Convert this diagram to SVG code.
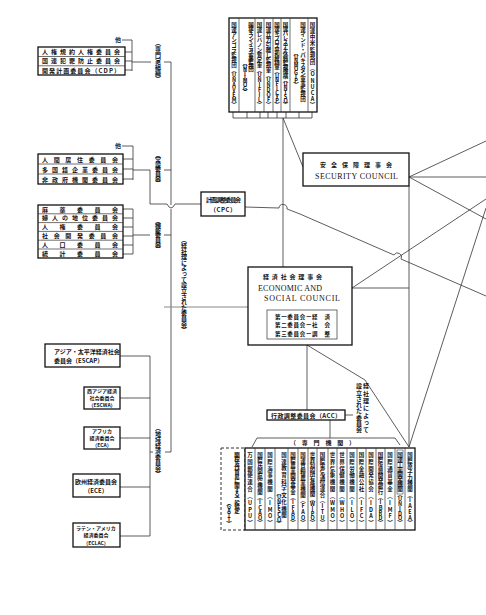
<svg xmlns="http://www.w3.org/2000/svg" width="486" height="615" viewBox="0 0 486 615">
<style>
.bx{fill:#fff;stroke:#111;stroke-width:1.3}
.in{fill:#fff;stroke:#333;stroke-width:0.7}
.ln{fill:none;stroke:#333;stroke-width:0.8}
.gr{fill:none;stroke:#888;stroke-width:1}
.j{font-family:"Noto Sans CJK JP",sans-serif;font-size:6px;fill:#111;font-weight:bold}
.r{font-family:"Noto Sans CJK JP",sans-serif;font-size:5px;fill:#111;font-weight:bold}
.s{font-family:"Noto Sans CJK JP",sans-serif;font-size:5.5px;fill:#111;font-weight:bold}
.e{font-family:"Liberation Serif",serif;font-size:8px;fill:#111}
.v{writing-mode:vertical-rl;text-orientation:upright}
</style>
<rect width="486" height="615" fill="#fff"/>

<g id="connectors">
  <path class="ln" d="M122,40 H132 V71 M125,52 H132 M125,61 H132 M125,70 H132 M132,62 H151 M164,62 H171"/>
  <path class="ln" d="M122,146 H133 V180 M123,159 H133 M123,169 H133 M123,179 H133 M133,170 H150 M164,170 H171"/>
  <path class="ln" d="M150,170 V204 H167 Q171,212 175,204 H201"/>
  <path class="ln" d="M123,209 H133 V254 M123,218 H133 M123,227 H133 M123,236 H133 M123,245 H133 M123,254 H133 M133,235 H150 M164,235 H171"/>
  <path class="ln" d="M171,62 V205 M171,209 V452 H165"/>
  <path class="gr" d="M164,307 H248"/>
  <path class="ln" d="M120,356 H150 M120,398 H150 M120,438 H150 M120,487 H150 M120,536 H150 M150,356 V536 M150,452 H153"/>
  <path class="ln" d="M233,112 V118 M247,112 V118 M260,112 V118 M268,112 V118 M277,112 V118 M286,112 V118 M299,112 V118 M312,112 V118 M233,118 H312"/>
  <path class="ln" d="M283,118 V267 M283,118 L303,167"/>
  <path class="ln" d="M245,207 L279,208 A4,4 0 0 1 287,209 L300,214 L394,255 A4,4 0 0 1 401,259 L486,296"/>
  <path class="ln" d="M409,177 L486,141 M409,177 H486 M409,177 L486,219 M409,186 V447"/>
  <path class="ln" d="M352,288 H409 M352,288 L486,199"/>
  <path class="ln" d="M307,345 V410 M307,345 L365,380 L409,447 M409,447 L437,360 L486,208"/>
  <path class="ln" d="M345,415 H353 M330,420 V438 M252,447 L257,438 H395 L400,445"/>
</g>

<g id="g-experts">
  <text class="j" x="115" y="42">他</text>
  <rect class="bx" x="38" y="47" width="87" height="28"/>
  <path class="in" d="M38,56.5 H125 M38,65.8 H125"/>
  <text class="j" x="42" y="54" textLength="78" lengthAdjust="spacing">人権規約人権委員会</text>
  <text class="j" x="42" y="63.3" textLength="78" lengthAdjust="spacing">国連犯罪防止委員会</text>
  <text class="j" x="42" y="72.6" textLength="78" lengthAdjust="spacing">開発計画委員会（CDP）</text>
  <text class="j v" x="158" y="40" textLength="42" lengthAdjust="spacing">（専門家組織）</text>
</g>

<g id="g-standing">
  <text class="j" x="115" y="148">他</text>
  <rect class="bx" x="38" y="154" width="85" height="30"/>
  <path class="in" d="M38,164 H123 M38,174 H123"/>
  <text class="j" x="42" y="161.5" textLength="76" lengthAdjust="spacing">人間居住委員会</text>
  <text class="j" x="42" y="171.5" textLength="76" lengthAdjust="spacing">多国籍企業委員会</text>
  <text class="j" x="42" y="181.5" textLength="76" lengthAdjust="spacing">非政府機関委員会</text>
  <text class="j v" x="158" y="152" textLength="34" lengthAdjust="spacing">（常設委員会）</text>
</g>

<g id="g-functional">
  <rect class="bx" x="38" y="205" width="85" height="53"/>
  <path class="in" d="M38,213.8 H123 M38,222.6 H123 M38,231.4 H123 M38,240.2 H123 M38,249 H123"/>
  <text class="j" x="42" y="211.6" textLength="76" lengthAdjust="spacing">麻薬委員会</text>
  <text class="j" x="42" y="220.4" textLength="76" lengthAdjust="spacing">婦人の地位委員会</text>
  <text class="j" x="42" y="229.2" textLength="76" lengthAdjust="spacing">人権委員会</text>
  <text class="j" x="42" y="238" textLength="76" lengthAdjust="spacing">社会開発委員会</text>
  <text class="j" x="42" y="246.8" textLength="76" lengthAdjust="spacing">人口委員会</text>
  <text class="j" x="42" y="255.6" textLength="76" lengthAdjust="spacing">統計委員会</text>
  <text class="j v" x="158" y="218" textLength="34" lengthAdjust="spacing">（機能委員会）</text>
</g>

<g id="n-cpc">
  <rect class="bx" x="201" y="192" width="44" height="24"/>
  <text class="j" x="206" y="202" textLength="35" lengthAdjust="spacing">計画調整委員会</text>
  <text class="j" x="210" y="212" textLength="26" lengthAdjust="spacing">（CPC）</text>
</g>

<text class="j v" x="184" y="237" textLength="96" lengthAdjust="spacing">（経社理によって設立された委員会）</text>

<g id="n-sc">
  <rect class="bx" x="303" y="153" width="106" height="33"/>
  <text class="j" x="320" y="167" textLength="72" lengthAdjust="spacing">安全保障理事会</text>
  <text class="e" x="315" y="179" textLength="83" lengthAdjust="spacing">SECURITY COUNCIL</text>
</g>

<g id="n-ecosoc">
  <rect class="bx" x="248" y="267" width="104" height="78"/>
  <text class="j" x="263" y="279" textLength="59" lengthAdjust="spacing">経済社会理事会</text>
  <text class="e" x="258" y="291" textLength="64" lengthAdjust="spacing">ECONOMIC AND</text>
  <text class="e" x="264" y="301" textLength="76" lengthAdjust="spacing">SOCIAL COUNCIL</text>
  <rect class="in" x="267" y="310" width="70" height="29"/>
  <text class="s" x="275" y="318.5" textLength="55" lengthAdjust="spacing">第一委員会ー経　済</text>
  <text class="s" x="275" y="327" textLength="55" lengthAdjust="spacing">第二委員会ー社　会</text>
  <text class="s" x="275" y="335.5" textLength="55" lengthAdjust="spacing">第三委員会ー調　整</text>
</g>

<g id="n-acc">
  <rect class="bx" x="267" y="410" width="78" height="10"/>
  <text class="j" x="271" y="417.5" textLength="70" lengthAdjust="spacing">行政調整委員会（ACC）</text>
  <text class="j v" x="366" y="383" textLength="50" lengthAdjust="spacing">経社理によって</text>
  <text class="j v" x="359" y="383" textLength="50" lengthAdjust="spacing">設立された委員会</text>
  <text class="j" x="290" y="445" textLength="65" lengthAdjust="spacing">（専門機関）</text>
</g>

<g id="g-pko">
  <rect class="bx" x="229" y="18" width="88" height="94"/>
  <path class="in" d="M239,18 V112 M255,18 V112 M264,18 V112 M273,18 V112 M281,18 V112 M290,18 V112 M308,18 V112"/>
  <text class="s v" x="234" y="22" textLength="86" lengthAdjust="spacing">国連アンゴラ監視団（UNAVEM）</text>
  <text class="s v" x="251" y="22" textLength="50" lengthAdjust="spacing">国連イラン・イラク軍事監視団</text>
  <text class="s v" x="245" y="60" textLength="35" lengthAdjust="spacing">（UNIIMOG）</text>
  <text class="s v" x="259.5" y="22" textLength="86" lengthAdjust="spacing">国連レバノン暫定軍（UNIFIL）</text>
  <text class="s v" x="268.5" y="22" textLength="86" lengthAdjust="spacing">国連兵力引離し監視軍（UNDOF）</text>
  <text class="s v" x="277" y="22" textLength="86" lengthAdjust="spacing">国連キプロス平和維持軍（UNFICYP）</text>
  <text class="s v" x="285.5" y="22" textLength="86" lengthAdjust="spacing">国連パレスチナ休戦監視機構（UNTSO）</text>
  <text class="s v" x="303" y="22" textLength="80" lengthAdjust="spacing">国連インド・パキスタン軍事監視団</text>
  <text class="s v" x="296" y="50" textLength="38" lengthAdjust="spacing">（UNMOGIP）</text>
  <text class="s v" x="312.5" y="22" textLength="86" lengthAdjust="spacing">国連中米監視団（ONUCA）</text>
</g>

<g id="g-agencies">
  <rect x="221" y="448" width="24" height="82" fill="#fff" stroke="#333" stroke-width="1" stroke-dasharray="3,2"/>
  <text class="s v" x="237" y="452" textLength="62" lengthAdjust="spacing">関税及び貿易に関する一般協定</text>
  <text class="s v" x="229" y="500" textLength="27" lengthAdjust="spacing">（GATT）</text>
  <rect class="bx" x="245" y="448" width="170" height="82"/>
  <path class="in" d="M255,448 V530 M265,448 V530 M275,448 V530 M288,448 V530 M298,448 V530 M308,448 V530 M317,448 V530 M328,448 V530 M337,448 V530 M347,448 V530 M357,448 V530 M366,448 V530 M376,448 V530 M385,448 V530 M395,448 V530 M405,448 V530"/>
  <rect x="397" y="450" width="6" height="44" fill="none" stroke="#444" stroke-width="0.6"/>
  <text class="s v" x="250" y="452" textLength="74" lengthAdjust="spacing">万国郵便連合（UPU）</text>
  <text class="s v" x="260" y="452" textLength="74" lengthAdjust="spacing">国際民間航空機関（ICAO）</text>
  <text class="s v" x="270" y="452" textLength="74" lengthAdjust="spacing">国際海事機関（IMO）</text>
  <text class="s v" x="284" y="452" textLength="66" lengthAdjust="spacing">国連教育科学文化機関</text>
  <text class="s v" x="279" y="490" textLength="37" lengthAdjust="spacing">（UNESCO）</text>
  <text class="s v" x="293" y="452" textLength="74" lengthAdjust="spacing">国際農業開発基金（IFAD）</text>
  <text class="s v" x="303" y="452" textLength="74" lengthAdjust="spacing">国連食糧農業機関（FAO）</text>
  <text class="s v" x="312.5" y="452" textLength="74" lengthAdjust="spacing">世界知的所有権機関（WIPO）</text>
  <text class="s v" x="322.5" y="452" textLength="74" lengthAdjust="spacing">国際電気通信連合（ITU）</text>
  <text class="s v" x="332.5" y="452" textLength="74" lengthAdjust="spacing">世界気象機関（WMO）</text>
  <text class="s v" x="342" y="452" textLength="74" lengthAdjust="spacing">世界保健機関（WHO）</text>
  <text class="s v" x="352" y="452" textLength="74" lengthAdjust="spacing">国際労働機関（ILO）</text>
  <text class="s v" x="361.5" y="452" textLength="74" lengthAdjust="spacing">国際金融公社（IFC）</text>
  <text class="s v" x="371" y="452" textLength="74" lengthAdjust="spacing">国際開発協会（IDA）</text>
  <text class="s v" x="380.5" y="452" textLength="74" lengthAdjust="spacing">国際復興開発銀行（IBRD）</text>
  <text class="s v" x="390" y="452" textLength="74" lengthAdjust="spacing">国際通貨基金（IMF）</text>
  <text class="s v" x="400" y="452" textLength="74" lengthAdjust="spacing">国連工業開発機関（UNIDO）</text>
  <text class="s v" x="410" y="452" textLength="74" lengthAdjust="spacing">国際原子力機関（IAEA）</text>
</g>

<g id="g-regional">
  <text class="j v" x="158" y="425" textLength="52" lengthAdjust="spacing">（地域経済委員会）</text>
  <g id="n-escap">
    <rect class="bx" x="45" y="344" width="75" height="23"/>
    <text class="j" x="54" y="354">アジア・太平洋経済社会</text>
    <text class="j" x="54" y="363">委員会（ESCAP）</text>
  </g>
  <g id="n-escwa">
    <rect class="bx" x="84" y="387" width="36" height="22"/>
    <text class="r" x="102" y="393.2" text-anchor="middle">西アジア経済</text>
    <text class="r" x="102" y="400" text-anchor="middle">社会委員会</text>
    <text class="r" x="102" y="406.8" text-anchor="middle">（ESCWA）</text>
  </g>
  <g id="n-eca">
    <rect class="bx" x="84" y="427" width="36" height="22"/>
    <text class="r" x="102" y="433.2" text-anchor="middle">アフリカ</text>
    <text class="r" x="102" y="440" text-anchor="middle">経済委員会</text>
    <text class="r" x="102" y="446.8" text-anchor="middle">（ECA）</text>
  </g>
  <g id="n-ece">
    <rect class="bx" x="73" y="474" width="47" height="23"/>
    <text class="j" x="96" y="484" text-anchor="middle">欧州経済委員会</text>
    <text class="j" x="96" y="493" text-anchor="middle">（ECE）</text>
  </g>
  <g id="n-eclac">
    <rect class="bx" x="73" y="523" width="47" height="24"/>
    <text class="r" x="96" y="530" text-anchor="middle">ラテン・アメリカ</text>
    <text class="r" x="96" y="537.3" text-anchor="middle">経済委員会</text>
    <text class="r" x="96" y="544.6" text-anchor="middle">（ECLAC）</text>
  </g>
</g>
</svg>
